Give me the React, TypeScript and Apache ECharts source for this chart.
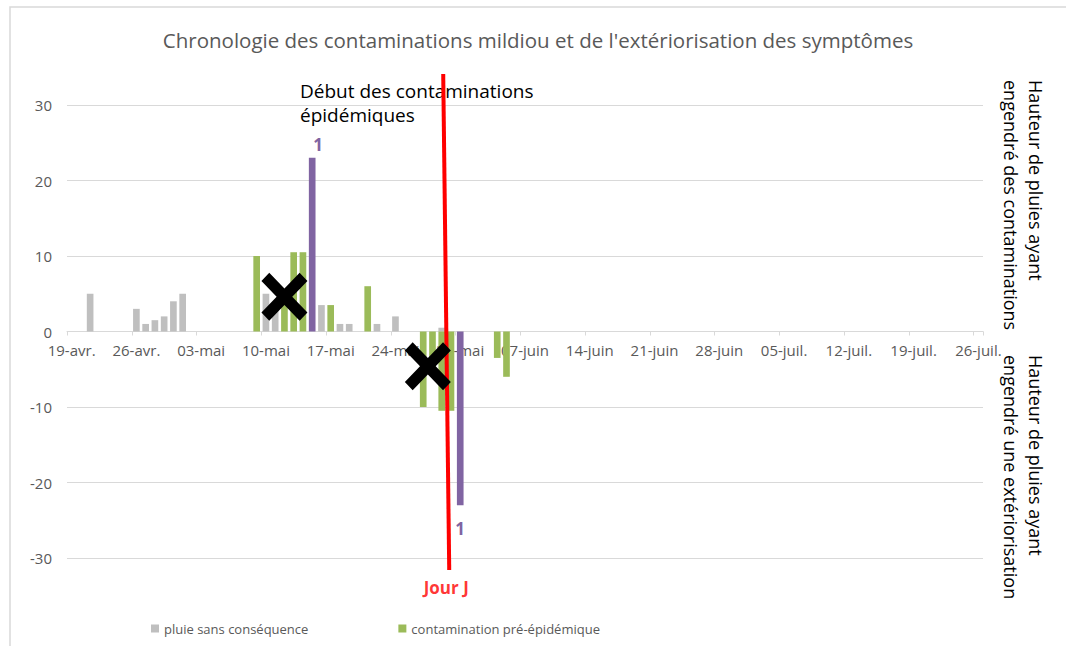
import React, { useEffect, useRef } from "react";
import * as echarts from "echarts";

// ---- Categories: one per day from 19 avril to 26 juillet ----
const MONTHS = ["janv.", "févr.", "mars", "avr.", "mai", "juin", "juil.", "août", "sept.", "oct.", "nov.", "déc."];
const START_DAY = { year: 2021, month: 3, day: 19 };
const DAY_COUNT = 99;
const categories: string[] = [];
for (let i = 0; i < DAY_COUNT; i++) {
  const d = new Date(Date.UTC(START_DAY.year, START_DAY.month, START_DAY.day + i));
  categories.push(String(d.getUTCDate()).padStart(2, "0") + "-" + MONTHS[d.getUTCMonth()]);
}
const LABEL_EVERY = 7;

// ---- Series values (mm), positive = contamination, negative = extériorisation ----
const pluieSansConsequence: [string, number][] = [
  ["21-avr.", 5], ["26-avr.", 3], ["27-avr.", 1], ["28-avr.", 1.5], ["29-avr.", 2], ["30-avr.", 4],
  ["01-mai", 5], ["10-mai", 5], ["11-mai", 3], ["16-mai", 3.5], ["18-mai", 1], ["19-mai", 1],
  ["22-mai", 1], ["24-mai", 2], ["29-mai", 0.5],
];
const contaminationPreEpidemique: [string, number][] = [
  ["09-mai", 10], ["12-mai", 5], ["13-mai", 10.5], ["14-mai", 10.5], ["17-mai", 3.5], ["21-mai", 6],
  ["27-mai", -10], ["28-mai", -5], ["29-mai", -10.5], ["30-mai", -10.5], ["04-juin", -3.5], ["05-juin", -6],
];
const contaminationEpidemique: [string, number][] = [["15-mai", 23], ["31-mai", -23]];
const epidemiqueLabels = ["1", "1"];

// ---- Y axis ----
const Y_MIN = -30;
const Y_MAX = 30;
const Y_STEP = 10;

// ---- Annotations (day position from 19-avr., value) ----
const crossMarks: [number, number][] = [[23.5, 4.6], [39.0, -4.6]];
const jourJLine: [number, number][] = [[40.66, 34.1], [41.31, -31.6]];

const FONT = "Open Sans";
const CROSS =
  "path://M0,17 L17,0 L50,33 L83,0 L100,17 L67,50 L100,83 L83,100 L50,67 L17,100 L0,83 L33,50 Z";

const GRID = { left: 67, right: 83, top: 105, bottom: 88 };
const CHART_H = 646;

export default function App() {
  const ref = useRef<HTMLDivElement>(null);
  useEffect(() => {
    const chart = echarts.init(ref.current!, null, { renderer: "svg" });
    const plotH = CHART_H - GRID.top - GRID.bottom;
    // distance from the bottom of the plot to the zero line
    const zeroOffset = (plotH * (0 - Y_MIN)) / (Y_MAX - Y_MIN);
    const option: any = {
      animation: false,
      backgroundColor: "#ffffff",
      textStyle: { fontFamily: FONT },
      title: {
        text: "Chronologie des contaminations mildiou et de l'extériorisation des symptômes",
        left: 533,
        top: 24,
        textAlign: "center",
        textStyle: { color: "#595959", fontSize: 20.5, fontWeight: "normal", fontFamily: FONT },
      },
      legend: {
        data: ["pluie sans conséquence", "contamination pré-épidémique"],
        left: 146,
        top: 617,
        icon: "rect",
        itemWidth: 8,
        itemHeight: 8,
        itemGap: 90,
        textStyle: { color: "#595959", fontSize: 13, fontFamily: FONT },
      },
      grid: { ...GRID, containLabel: false },
      xAxis: [
        {
          type: "category",
          data: categories,
          boundaryGap: true,
          offset: -zeroOffset,
          axisLine: { onZero: false, lineStyle: { color: "#d9d9d9", width: 1 } },
          axisTick: { show: true, interval: LABEL_EVERY - 1, length: 4, lineStyle: { color: "#d9d9d9" } },
          axisLabel: {
            interval: LABEL_EVERY - 1,
            color: "#595959",
            fontSize: 15,
            margin: 11,
            fontFamily: FONT,
          },
          splitLine: { show: false },
          z: 1,
        },
        { type: "value", min: 0, max: DAY_COUNT, show: false, axisLine: { onZero: false } },
      ],
      yAxis: {
        type: "value",
        min: Y_MIN,
        max: Y_MAX,
        interval: Y_STEP,
        axisLine: { show: false, onZero: false },
        axisTick: { show: false },
        axisLabel: { color: "#595959", fontSize: 15, margin: 15, fontFamily: FONT },
        splitLine: { lineStyle: { color: "#d9d9d9", width: 1 } },
      },
      graphic: [
        {
          type: "rect",
          shape: { x: 10, y: 7, width: 1200, height: 800 },
          style: { fill: "none", stroke: "#d9d9d9", lineWidth: 1.5 },
          z: -10,
          silent: true,
        },
        {
          type: "text",
          left: 300,
          top: 79,
          style: {
            text: "Début des contaminations\népidémiques",
            fill: "#000000",
            font: `19px '${FONT}'`,
            lineHeight: 24,
          },
        },
        {
          type: "text",
          x: 1048,
          y: 80,
          rotation: -Math.PI / 2,
          style: {
            text: "Hauteur de pluies ayant\nengendré des contaminations",
            fill: "#000000",
            font: `18px '${FONT}'`,
            lineHeight: 25,
            align: "left",
            verticalAlign: "top",
          },
        },
        {
          type: "text",
          x: 1048,
          y: 355,
          rotation: -Math.PI / 2,
          style: {
            text: "Hauteur de pluies ayant\nengendré une extériorisation",
            fill: "#000000",
            font: `18px '${FONT}'`,
            lineHeight: 25,
            align: "left",
            verticalAlign: "top",
          },
        },
      ],
      series: [
        {
          name: "pluie sans conséquence",
          type: "bar",
          barWidth: "72%",
          barGap: "-100%",
          itemStyle: { color: "#bfbfbf" },
          data: pluieSansConsequence,
        },
        {
          name: "contamination pré-épidémique",
          type: "bar",
          barWidth: "72%",
          barGap: "-100%",
          itemStyle: { color: "#9bbb59" },
          data: contaminationPreEpidemique,
        },
        {
          name: "contamination épidémique",
          type: "bar",
          barWidth: "72%",
          barGap: "-100%",
          itemStyle: { color: "#8064a2" },
          data: contaminationEpidemique.map((p, i) => ({
            value: p,
            label: {
              show: true,
              formatter: epidemiqueLabels[i],
              position: p[1] >= 0 ? "top" : "bottom",
              distance: p[1] >= 0 ? 5 : 15,
              offset: p[1] >= 0 ? [6, 0] : [0, 0],
              color: "#8064a2",
              fontWeight: "bold",
              fontSize: 17,
              fontFamily: FONT,
            },
          })),
        },
        {
          name: "jourJ",
          type: "line",
          xAxisIndex: 1,
          yAxisIndex: 0,
          clip: false,
          symbol: "none",
          lineStyle: { color: "#ff0000", width: 4 },
          data: jourJLine,
          z: 5,
        },
        {
          name: "jourJLabel",
          type: "scatter",
          xAxisIndex: 1,
          yAxisIndex: 0,
          clip: false,
          symbolSize: 1,
          itemStyle: { color: "rgba(0,0,0,0)" },
          data: [
            {
              value: jourJLine[1],
              label: {
                show: true,
                position: "bottom",
                distance: 8,
                offset: [-3, 0],
                formatter: "Jour J",
                color: "#ff0000",
                fontWeight: "bold",
                fontSize: 17,
                fontFamily: FONT,
              },
            },
          ],
          z: 6,
        },
        {
          name: "croix",
          type: "scatter",
          xAxisIndex: 1,
          yAxisIndex: 0,
          clip: false,
          symbol: CROSS,
          symbolSize: [46, 48],
          itemStyle: { color: "#000000", opacity: 1 },
          data: crossMarks,
          z: 6,
        },
      ],
    };
    chart.setOption(option);
    return () => chart.dispose();
  }, []);
  return <div ref={ref} style={{ position: "fixed", left: 0, top: 0, width: 1066, height: 646 }} />;
}
